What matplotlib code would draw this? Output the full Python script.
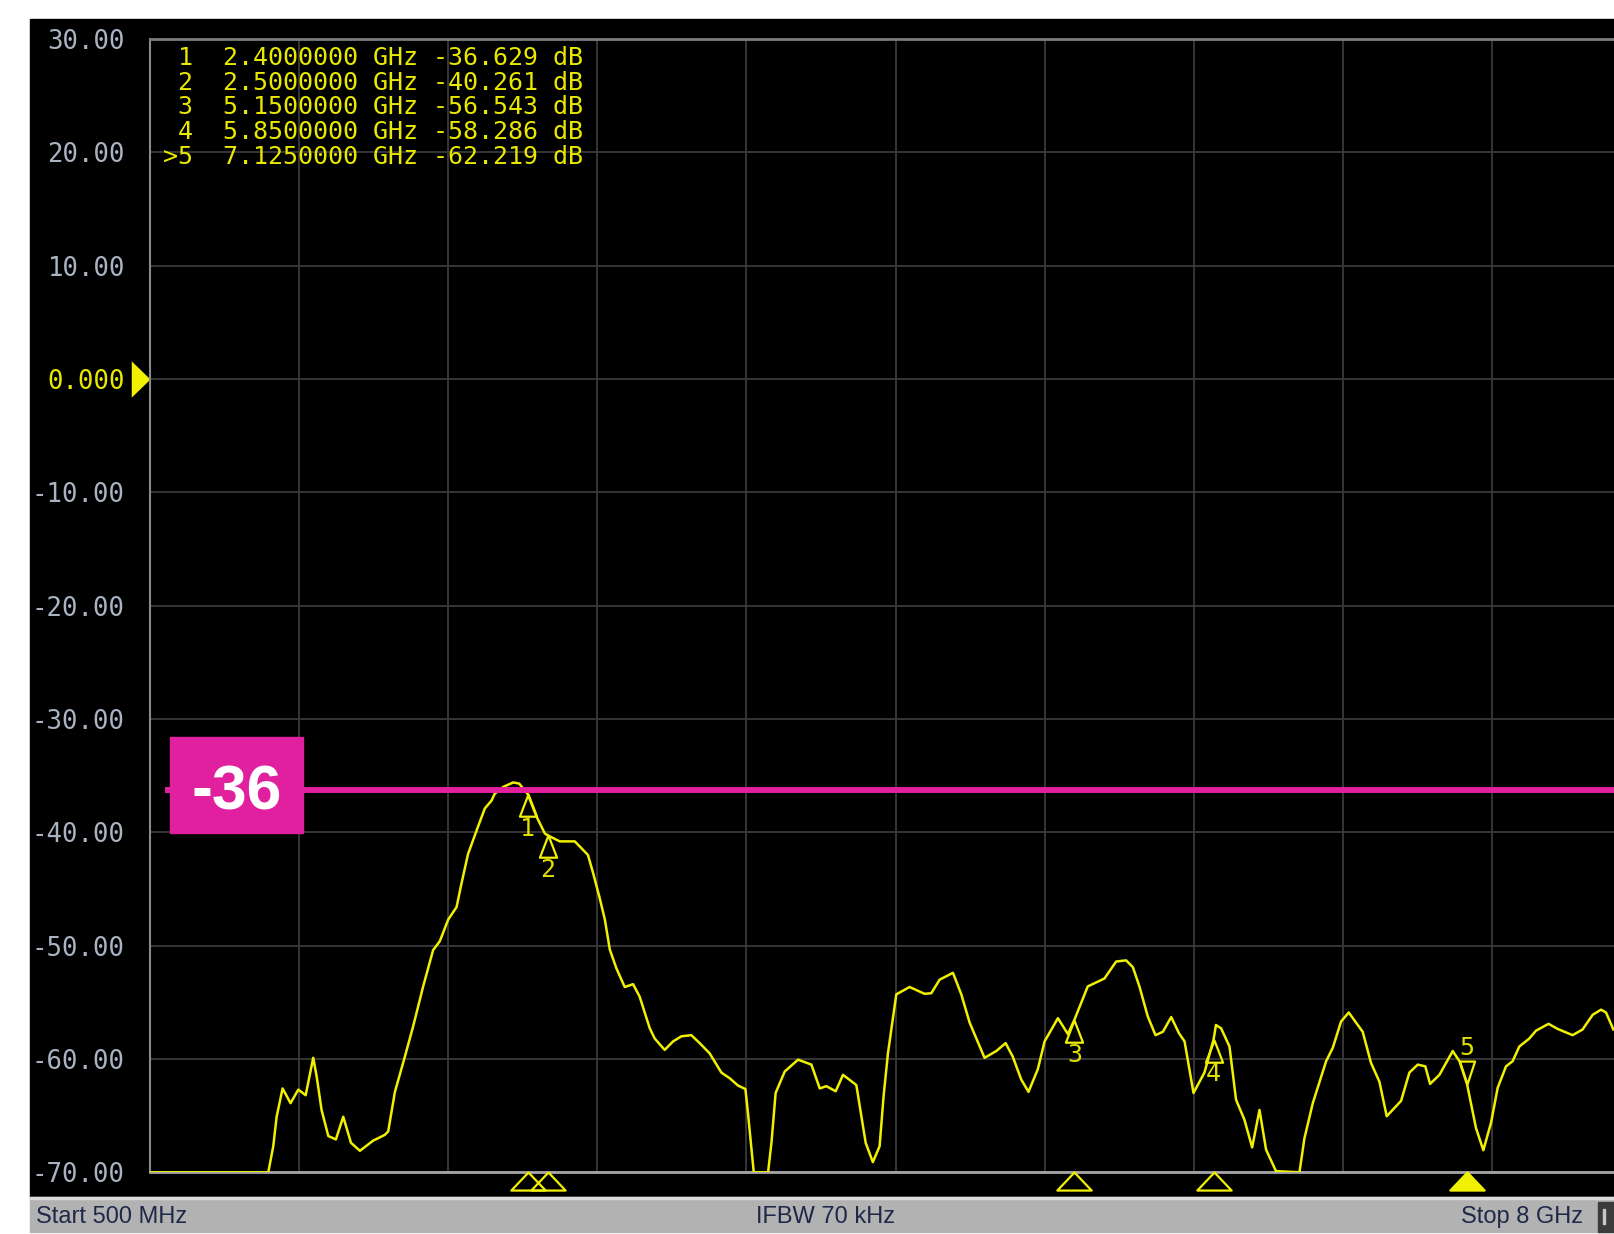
import numpy as np
import matplotlib
matplotlib.use('Agg')
import matplotlib.pyplot as plt
from matplotlib.patches import Rectangle
from matplotlib.path import Path

# trace (GHz, dB), clipped at the bottom of the scale
freq_ghz = [0.5, 1.095, 1.12, 1.137, 1.167, 1.207, 1.246, 1.283, 1.321, 1.338,
            1.363, 1.397, 1.435, 1.472, 1.511, 1.556, 1.623, 1.681, 1.698, 1.732,
            1.782, 1.824, 1.874, 1.924, 1.958, 2.0, 2.042, 2.067, 2.1, 2.15,
            2.184, 2.218, 2.234, 2.276, 2.327, 2.357, 2.4, 2.444, 2.486, 2.5,
            2.561, 2.637, 2.703, 2.729, 2.762, 2.788, 2.813, 2.846, 2.888, 2.93,
            2.963, 3.014, 3.039, 3.089, 3.131, 3.173, 3.223, 3.265, 3.315, 3.374,
            3.416, 3.458, 3.495, 3.508, 3.537, 3.609, 3.626, 3.647, 3.693, 3.76,
            3.827, 3.869, 3.902, 3.949, 3.986, 4.053, 4.1, 4.136, 4.17, 4.19,
            4.212, 4.254, 4.321, 4.396, 4.43, 4.472, 4.539, 4.581, 4.623, 4.698,
            4.757, 4.804, 4.84, 4.882, 4.919, 4.966, 5.0, 5.067, 5.117, 5.15,
            5.217, 5.301, 5.36, 5.41, 5.444, 5.477, 5.519, 5.558, 5.595, 5.637,
            5.675, 5.704, 5.749, 5.804, 5.85, 5.862, 5.888, 5.93, 5.963, 6.005,
            6.044, 6.081, 6.114, 6.164, 6.282, 6.307, 6.349, 6.416, 6.45, 6.491,
            6.53, 6.6, 6.642, 6.684, 6.721, 6.793, 6.835, 6.877, 6.915, 6.939,
            6.986, 7.053, 7.087, 7.125, 7.17, 7.207, 7.246, 7.279, 7.321, 7.354,
            7.388, 7.438, 7.472, 7.535, 7.581, 7.656, 7.706, 7.757, 7.799, 7.824,
            7.861]
level_db = [-70, -70, -67.7, -65.1, -62.6, -63.9, -62.7, -63.2, -59.9, -61.5,
            -64.5, -66.8, -67.1, -65.1, -67.4, -68.1, -67.2, -66.7, -66.4, -62.9,
            -59.8, -57.1, -53.6, -50.4, -49.6, -47.7, -46.6, -44.5, -41.9, -39.5,
            -37.9, -37.2, -36.6, -36.0, -35.6, -35.7, -36.63, -38.6, -40.1, -40.26,
            -40.8, -40.8, -42.0, -43.6, -45.8, -47.7, -50.35, -52.0, -53.65, -53.4,
            -54.5, -57.3, -58.2, -59.2, -58.45, -58.0, -57.9, -58.6, -59.5, -61.2,
            -61.7, -62.35, -62.65, -64.8, -70, -70, -67.4, -63.0, -61.1, -60.06,
            -60.5, -62.6, -62.4, -62.85, -61.4, -62.3, -67.4, -69.1, -67.7, -63.3,
            -59.5, -54.3, -53.65, -54.25, -54.2, -53.0, -52.4, -54.3, -56.8, -59.9,
            -59.3, -58.6, -59.8, -61.8, -62.9, -60.9, -58.45, -56.4, -57.8, -56.54,
            -53.6, -52.9, -51.4, -51.3, -51.9, -53.6, -56.25, -57.9, -57.6, -56.3,
            -57.7, -58.45, -63.0, -61.2, -58.29, -57.0, -57.3, -58.9, -63.6, -65.35,
            -67.8, -64.5, -68.0, -69.9, -70, -67.0, -63.9, -60.2, -59.0, -56.7,
            -55.9, -57.6, -60.35, -62.0, -65.05, -63.7, -61.2, -60.5, -60.65, -62.2,
            -61.4, -59.3, -60.2, -62.22, -66.1, -68.05, -65.6, -62.55, -60.65, -60.2,
            -58.9, -58.2, -57.5, -56.9, -57.35, -57.9, -57.4, -56.1, -55.65, -55.9,
            -57.4]

marker_ids = [1, 2, 3, 4, 5]
marker_freq = [2.4, 2.5, 5.15, 5.85, 7.125]
marker_db = [-36.629, -40.261, -56.543, -58.286, -62.219]
table_rows = [' 1  2.4000000 GHz -36.629 dB',
              ' 2  2.5000000 GHz -40.261 dB',
              ' 3  5.1500000 GHz -56.543 dB',
              ' 4  5.8500000 GHz -58.286 dB',
              '>5  7.1250000 GHz -62.219 dB']

y_ticks = [30, 20, 10, 0, -10, -20, -30, -40, -50, -60, -70]
y_labels = ['30.00', '20.00', '10.00', '0.000', '-10.00', '-20.00', '-30.00',
            '-40.00', '-50.00', '-60.00', '-70.00']
limit_db = -36.3
limit_label = '-36'

YEL = '#f0f000'
MAG = '#e0209e'
W, H = 1614, 1234


def fx(px):
    return px / W


def fy(py):
    return 1 - py / H


def gx(px):
    return 0.5 + (px - 150) / 198.8


def gy(py):
    return 30 - (py - 39) / 11.333


fig = plt.figure(figsize=(W / 100, H / 100), dpi=100, facecolor='white')

# instrument screen + status bar
fig.patches.append(Rectangle((fx(30), fy(1197)), 1, fy(19) - fy(1197),
                             transform=fig.transFigure, color='black', zorder=-2))
fig.patches.append(Rectangle((fx(30), fy(1232)), 1, fy(1197) - fy(1232),
                             transform=fig.transFigure, color='#b2b2b2', zorder=-2))
fig.patches.append(Rectangle((fx(30), fy(1199)), 1, fy(1197) - fy(1199),
                             transform=fig.transFigure, color='#dcdcdc', zorder=-1))
fig.patches.append(Rectangle((fx(1598), fy(1232)), 1, fy(1202) - fy(1232),
                             transform=fig.transFigure, color='#3c3c3c', zorder=-1))
# sliver of the clipped button caption at the right edge
fig.patches.append(Rectangle((fx(1603), fy(1224)), 2 / W, fy(1209) - fy(1224),
                             transform=fig.transFigure, color='#c8c8c8', zorder=-1))

ax = fig.add_axes([fx(150), fy(1172.3), 1491 / W, (1172.3 - 39) / H])
ax.set_facecolor('black')
ax.set_xlim(0.5, 8)
ax.set_ylim(-70, 30)
ax.set_xticks(np.arange(0.5, 8.01, 0.75))
ax.set_yticks(y_ticks)
ax.set_yticklabels(y_labels, family='DejaVu Sans Mono', fontsize=18.5, color='#a9b3c2')
ax.tick_params(length=0, labelbottom=False, pad=18)
ax.get_yticklabels()[3].set_color('#e8e800')
ax.grid(color='#3a3a3a', lw=1.3)
ax.spines['right'].set_visible(False)
ax.spines['left'].set_color('#8a8a8a')
ax.spines['left'].set_linewidth(1.5)
ax.spines['top'].set_color('#7c7c7c')
ax.spines['top'].set_linewidth(2)
ax.spines['bottom'].set_color('#a6a6a6')
ax.spines['bottom'].set_linewidth(2)

ax.plot(freq_ghz, level_db, color=YEL, lw=1.8, zorder=3)

# marker symbols on the trace
up_tri = Path([(0, 0), (-0.385, -1), (0.385, -1), (0, 0)],
              [Path.MOVETO, Path.LINETO, Path.LINETO, Path.CLOSEPOLY])
down_tri = Path([(0, 0), (-0.33, 1), (0.33, 1), (0, 0)],
                [Path.MOVETO, Path.LINETO, Path.LINETO, Path.CLOSEPOLY])
bottom_tri = Path([(0, 0), (-0.95, -1), (0.95, -1), (0, 0)],
                  [Path.MOVETO, Path.LINETO, Path.LINETO, Path.CLOSEPOLY])
ref_tri = Path([(0, 0), (-1, 0.97), (-1, -0.97), (0, 0)],
               [Path.MOVETO, Path.LINETO, Path.LINETO, Path.CLOSEPOLY])

for n, f, v in zip(marker_ids, marker_freq, marker_db):
    active = n == marker_ids[-1]
    ax.plot([f], [v], marker=down_tri if active else up_tri, ms=33 if active else 32,
            mfc='none', mec=YEL, mew=1.6, ls='none', zorder=4)
    ax.annotate(str(n), (f, v), xytext=(0, 26 if active else -25),
                textcoords='offset points', ha='center', va='center',
                family='DejaVu Sans Mono', fontsize=18, color='#e0e000', zorder=4)
    ax.plot([f], [0], marker=bottom_tri, ms=26, transform=ax.get_xaxis_transform(),
            mfc=YEL if active else 'none', mec=YEL, mew=1.6, ls='none',
            clip_on=False, zorder=4)

# reference level arrow on the left
ax.plot([0], [0], marker=ref_tri, ms=27, transform=ax.get_yaxis_transform(),
        mfc=YEL, mec=YEL, mew=0, ls='none', clip_on=False)

# limit line and tag
ax.plot([gx(165), 8], [limit_db, limit_db], color=MAG, lw=4.3,
        solid_capstyle='butt', zorder=5)
ax.add_patch(Rectangle((gx(170), gy(833.3)), gx(302.7) - gx(170), gy(737.3) - gy(833.3),
                       color=MAG, zorder=6))
ax.text(gx(236.7), gy(810), limit_label, fontsize=45, fontweight='bold',
        family='Liberation Sans', color='white', ha='center', va='baseline', zorder=7)

# marker table
for i, row in enumerate(table_rows):
    fig.text(fx(162.6), fy(57.6 + 24.9 * i), row, family='DejaVu Sans Mono',
             fontsize=18, color='#e8e800', ha='left', va='center')

# status bar text
fig.text(fx(36), fy(1217), 'Start 500 MHz', ha='left', va='center', fontsize=17,
         family='Liberation Sans', color='#1e2848')
fig.text(fx(825), fy(1217), 'IFBW 70 kHz', ha='center', va='center', fontsize=17,
         family='Liberation Sans', color='#1e2848')
fig.text(fx(1583), fy(1217), 'Stop 8 GHz', ha='right', va='center', fontsize=17,
         family='Liberation Sans', color='#1e2848')

fig.savefig('out.png', dpi=100, facecolor='white')
